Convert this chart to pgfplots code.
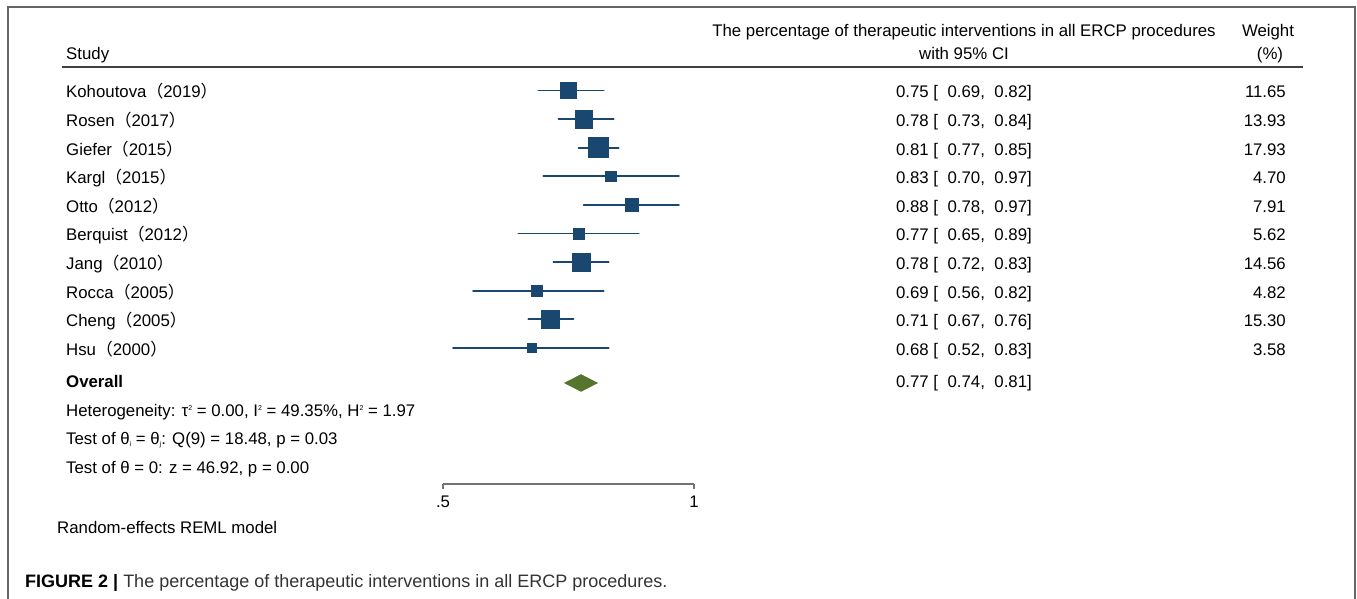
\documentclass[border=0pt]{standalone}
\usepackage{fontspec}
\setmainfont{Liberation Sans}
\newfontfamily\cjk{Noto Sans CJK SC}
\usepackage{pgfplots}
\pgfplotsset{compat=1.18}
\usepackage{pgfplotstable}
\definecolor{stnavy}{RGB}{26,71,111}
\definecolor{stgreen}{RGB}{85,117,47}
\newcommand\sq{\raisebox{6.5pt}{\fontsize{7}{8}\selectfont 2}}
\newcommand\subs[1]{\raisebox{-1.5pt}{\fontsize{7}{8}\selectfont #1}}
\newcommand\yr[1]{{\cjk（}#1{\cjk）}}
\newcommand\gap{\hspace{9.5pt}}

% est lo hi weight(%) row-position
\pgfplotstableread{
est lo hi w y
0.75 0.69 0.82 11.65 -90.5
0.78 0.73 0.84 13.93 -119.1
0.81 0.77 0.85 17.93 -147.7
0.834 0.70 0.97 4.70 -176.3
0.876 0.78 0.97 7.91 -204.9
0.771 0.65 0.89 5.62 -233.5
0.776 0.72 0.83 14.56 -262.1
0.687 0.56 0.82 4.82 -290.7
0.714 0.67 0.76 15.30 -319.3
0.677 0.52 0.83 3.58 -347.9
}\studies

\begin{document}
\fontsize{16.8pt}{19pt}\selectfont
\begin{tikzpicture}[x=1pt,y=1pt]
\useasboundingbox (0,0) rectangle (1357,599);
\draw[line width=1.8pt, color=black!60] (8,-2) -- (8,592) -- (1355,592) -- (1355,-2);
\begin{axis}[
  at={(443pt,115pt)}, anchor=south west,
  scale only axis, width=251pt, height=424pt,
  xmin=0.5, xmax=1, ymin=-484, ymax=-60,
  axis x line=bottom, axis y line=none,
  x axis line style={-, line width=1.3pt, color=black!55},
  xtick={0.5,1}, xticklabels={.5,1},
  tick align=outside, major tick length=5pt,
  tick style={line width=1.3pt, color=black!55},
  xticklabel style={text=black, font=\fontsize{16.8pt}{19pt}\selectfont, yshift=-1pt},
  /pgf/number format/assume math mode=true,
  clip=false,
]
\addplot[
  scatter, only marks, mark=square*,
  point meta=\thisrow{w},
  scatter/use mapped color={draw=stnavy, fill=stnavy},
  visualization depends on={2.36*sqrt(\thisrow{w}) \as \msize},
  scatter/@pre marker code/.append style={/tikz/mark size=\msize},
  error bars/.cd, x dir=both, x explicit, error mark=none,
  error bar style={line width=1.8pt, stnavy, line cap=round},
] table[x=est, y=y,
  x error plus expr=\thisrow{hi}-\thisrow{est},
  x error minus expr=\thisrow{est}-\thisrow{lo}] {\studies};
\addplot[fill=stgreen, draw=stgreen, line width=0.4pt]
  coordinates {(0.742,-383) (0.775,-374.5) (0.808,-383) (0.775,-391.5)} -- cycle;
\end{axis}

% header
\node[anchor=base west, inner sep=0] at (66,539) {Study};
\node[anchor=base, inner sep=0] at (964,562) {The percentage of therapeutic interventions in all ERCP procedures};
\node[anchor=base, inner sep=0] at (964,539) {with 95\% CI};
\node[anchor=base, inner sep=0] at (1268,562) {Weight};
\node[anchor=base, inner sep=0] at (1270,539) {(\%)};
\draw[line width=1.5pt, color=black!75] (62,532) -- (1303,532);

% study rows
\foreach \nm/\ci/\wt [count=\i from 0] in {
  Kohoutova\yr{2019}/{0.75 [\gap0.69,\gap0.82]}/11.65,
  Rosen\yr{2017}/{0.78 [\gap0.73,\gap0.84]}/13.93,
  Giefer\yr{2015}/{0.81 [\gap0.77,\gap0.85]}/17.93,
  Kargl\yr{2015}/{0.83 [\gap0.70,\gap0.97]}/4.70,
  Otto\yr{2012}/{0.88 [\gap0.78,\gap0.97]}/7.91,
  Berquist\yr{2012}/{0.77 [\gap0.65,\gap0.89]}/5.62,
  Jang\yr{2010}/{0.78 [\gap0.72,\gap0.83]}/14.56,
  Rocca\yr{2005}/{0.69 [\gap0.56,\gap0.82]}/4.82,
  Cheng\yr{2005}/{0.71 [\gap0.67,\gap0.76]}/15.30,
  Hsu\yr{2000}/{0.68 [\gap0.52,\gap0.83]}/3.58}{
  \pgfmathsetmacro\by{599-90.5-7.5-28.6*\i}
  \node[anchor=base west, inner sep=0] at (66,\by) {\nm};
  \node[anchor=base east, inner sep=0] at (1032,\by) {\ci};
  \node[anchor=base east, inner sep=0] at (1286,\by) {\wt};
}
\node[anchor=base west, inner sep=0] at (66,211) {\textbf{Overall}};
\node[anchor=base east, inner sep=0] at (1032,211) {0.77 [\gap0.74,\gap0.81]};
\node[anchor=base west, inner sep=0] at (66,182) {Heterogeneity: τ\sq{} = 0.00, I\sq{} = 49.35\%, H\sq{} = 1.97};
\node[anchor=base west, inner sep=0] at (66,154) {Test of θ\subs{i} = θ\subs{j}: Q(9) = 18.48, p = 0.03};
\node[anchor=base west, inner sep=0] at (66,125) {Test of θ = 0: z = 46.92, p = 0.00};
\node[anchor=base west, inner sep=0] at (57,65) {Random-effects REML model};
\node[anchor=base west, inner sep=0] at (25,11) {\fontsize{18pt}{20pt}\selectfont\textbf{FIGURE 2 |} \textcolor{black!80}{The percentage of therapeutic interventions in all ERCP procedures.}};
\end{tikzpicture}
\end{document}
